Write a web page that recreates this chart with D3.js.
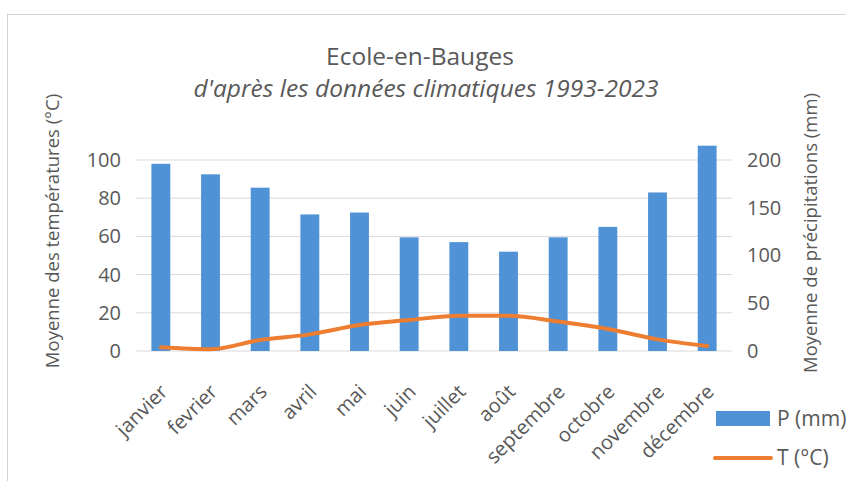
<!DOCTYPE html>
<html>
<head>
<meta charset="utf-8">
<script src="https://cdn.jsdelivr.net/npm/d3@7"></script>
<style>
  body { margin: 0; background: #fff; }
  text { font-family: "Open Sans", Lato, sans-serif; fill: #595959; }
</style>
</head>
<body>
<script>
const mois = ['janvier', 'fevrier', 'mars', 'avril', 'mai', 'juin', 'juillet', 'août', 'septembre', 'octobre', 'novembre', 'décembre']
const precip = [196, 185, 171, 143, 145, 119, 114, 104, 119, 130, 166, 215]
const temp = [1.9, 0.9, 5.8, 8.7, 13.6, 16.2, 18.5, 18.5, 15.4, 11.5, 6.1, 2.6]
const ticksT = [0, 20, 40, 60, 80, 100]
const ticksP = [0, 50, 100, 150, 200]

const w = 846
const h = 481
const plotLeft = 136, plotRight = 732, plotTop = 160, plotBottom = 351

const svg = d3.select('body').append('svg')
    .attr('width', w)
    .attr('height', h)

// cadre
svg.append('rect')
    .attr('x', 7.5).attr('y', 14.5)
    .attr('width', w).attr('height', h)
    .attr('fill', '#fff')
    .attr('stroke', '#d4d4d4')

const x = d3.scaleBand().domain(mois).range([plotLeft, plotRight]).paddingInner(0.62).paddingOuter(0.31)
const yT = d3.scaleLinear().domain([0, 100]).range([plotBottom, plotTop])
const yP = d3.scaleLinear().domain([0, 200]).range([plotBottom, plotTop])

// grille
svg.append('g')
    .selectAll('line')
    .data(ticksT)
    .enter()
    .append('line')
    .attr('x1', plotLeft).attr('x2', plotRight)
    .attr('y1', d => yT(d)).attr('y2', d => yT(d))
    .attr('stroke', '#d9d9d9')
    .attr('stroke-width', 1)

// axes
const axL = svg.append('g')
    .attr('transform', `translate(${plotLeft - 15},0)`)
    .call(d3.axisLeft(yT).tickValues(ticksT).tickSize(0).tickPadding(0))
axL.select('.domain').remove()
axL.selectAll('text').style('font-size', '20px').attr('fill', '#595959').style('font-family', '"Open Sans", sans-serif')

const axR = svg.append('g')
    .attr('transform', `translate(${plotRight + 15},0)`)
    .call(d3.axisRight(yP).tickValues(ticksP).tickSize(0).tickPadding(0))
axR.select('.domain').remove()
axR.selectAll('text').style('font-size', '20px').attr('fill', '#595959').style('font-family', '"Open Sans", sans-serif')

// barres
svg.append('g')
    .selectAll('rect')
    .data(precip)
    .enter()
    .append('rect')
    .attr('x', (d, i) => x(mois[i]))
    .attr('width', x.bandwidth())
    .attr('y', d => yP(d))
    .attr('height', d => plotBottom - yP(d))
    .attr('fill', '#4f93d6')

// courbe
const line = d3.line()
    .x((d, i) => x(mois[i]) + x.bandwidth() / 2)
    .y(d => yT(d))
    .curve(d3.curveMonotoneX)

svg.append('path')
    .datum(temp)
    .attr('d', line)
    .attr('fill', 'none')
    .attr('stroke', '#ed7d31')
    .attr('stroke-width', 4)
    .attr('stroke-linecap', 'round')

// étiquettes des mois
svg.append('g')
    .selectAll('text')
    .data(mois)
    .enter()
    .append('text')
    .attr('transform', d => `translate(${x(d) + x.bandwidth() / 2 + 8},${393}) rotate(-45)`)
    .attr('text-anchor', 'end')
    .style('font-size', '20px')
    .text(d => d)

// titres
svg.append('text')
    .attr('x', 420).attr('y', 65)
    .attr('text-anchor', 'middle')
    .style('font-size', '24.5px')
    .text('Ecole-en-Bauges')

svg.append('text')
    .attr('x', 426).attr('y', 97)
    .attr('text-anchor', 'middle')
    .style('font-size', '24.5px')
    .style('font-style', 'italic')
    .text("d'après les données climatiques 1993-2023")

svg.append('text')
    .attr('transform', 'translate(59,231) rotate(-90)')
    .attr('text-anchor', 'middle')
    .style('font-size', '18.5px')
    .text('Moyenne des températures (°C)')

svg.append('text')
    .attr('transform', 'translate(817,233) rotate(-90)')
    .attr('text-anchor', 'middle')
    .style('font-size', '18.5px')
    .text('Moyenne de précipitations (mm)')

// légende
svg.append('rect')
    .attr('x', 716).attr('y', 411)
    .attr('width', 54).attr('height', 15)
    .attr('fill', '#4f93d6')
svg.append('text')
    .attr('x', 777).attr('y', 426)
    .style('font-size', '21px')
    .text('P (mm)')

svg.append('line')
    .attr('x1', 715).attr('x2', 771)
    .attr('y1', 458).attr('y2', 458)
    .attr('stroke', '#ed7d31')
    .attr('stroke-width', 4)
    .attr('stroke-linecap', 'round')
svg.append('text')
    .attr('x', 777).attr('y', 465)
    .style('font-size', '21px')
    .text('T (°C)')
</script>
</body>
</html>
